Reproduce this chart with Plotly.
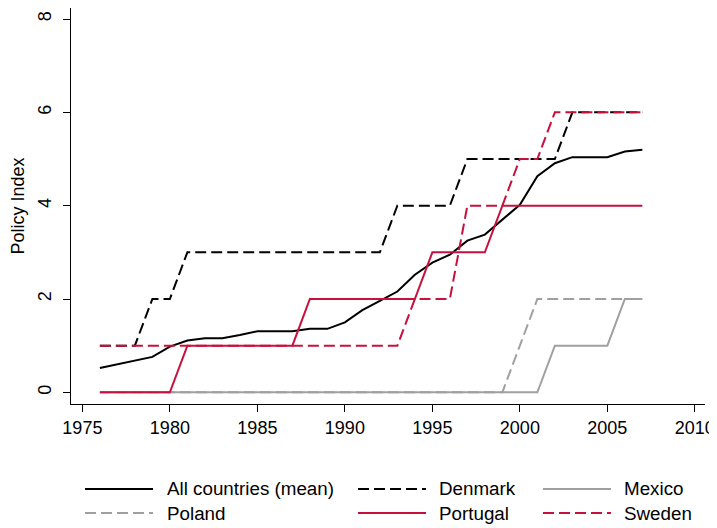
import plotly.graph_objects as go

# ---------------- data ----------------
years = list(range(1976, 2008))

mean_all = [0.52, 0.60, 0.68, 0.76, 0.98, 1.11, 1.16, 1.16, 1.23, 1.31, 1.31, 1.31,
            1.36, 1.36, 1.50, 1.76, 1.96, 2.16, 2.52, 2.78, 2.95, 3.25, 3.38, 3.70,
            4.02, 4.63, 4.91, 5.04, 5.04, 5.04, 5.16, 5.20]
denmark = [1, 1, 1, 2, 2, 3, 3, 3, 3, 3, 3, 3, 3, 3, 3, 3, 3, 4, 4, 4, 4, 5, 5, 5,
           5, 5, 5, 6, 6, 6, 6, 6]
mexico = [0] * 26 + [1, 1, 1, 1, 2, 2]
poland = [0] * 24 + [1, 2, 2, 2, 2, 2, 2, 2]
portugal = [0, 0, 0, 0, 0, 1, 1, 1, 1, 1, 1, 1, 2, 2, 2, 2, 2, 2, 2, 3, 3, 3, 3, 4,
            4, 4, 4, 4, 4, 4, 4, 4]
sweden = [1, 1, 1, 1, 1, 1, 1, 1, 1, 1, 1, 1, 1, 1, 1, 1, 1, 1, 2, 2, 2, 4, 4, 4,
          5, 5, 6, 6, 6, 6, 6, 6]

series_names = ["All countries (mean)", "Denmark", "Mexico", "Poland", "Portugal", "Sweden"]
series_values = [mean_all, denmark, mexico, poland, portugal, sweden]

x_ticks = [1975, 1980, 1985, 1990, 1995, 2000, 2005, 2010]
y_ticks = [0, 2, 4, 6, 8]

# ---------------- styles ----------------
BLACK = "#000000"
RED = "#c8103c"
GREY = "#a0a0a0"
DASH = "11px,5px"
styles = {
    "All countries (mean)": (BLACK, "solid"),
    "Denmark": (BLACK, DASH),
    "Mexico": (GREY, "solid"),
    "Poland": (GREY, DASH),
    "Portugal": (RED, "solid"),
    "Sweden": (RED, DASH),
}
FONT = "Liberation Sans, Arial, Helvetica, sans-serif"
FS = 18
FS_LEG = 18.8

# the page body adds an 8px offset; the figure is sized to fill the rest
OFF = 8
W, H = 717 - OFF, 528 - OFF
ML, MR, MT, MB = 71 - OFF, 12, 0, 124
PW, PH = W - ML - MR, H - MT - MB


def px_x(p):  # p in reference-page pixels
    return (p - OFF - ML) / PW


def px_y(p):
    return (H - MB - (p - OFF)) / PH


fig = go.Figure()
for name, vals in zip(series_names, series_values):
    color, dash = styles[name]
    fig.add_trace(go.Scatter(x=years, y=vals, mode="lines", name=name,
                             line=dict(color=color, width=2, dash=dash),
                             showlegend=False))

# manual legend (3 columns x 2 rows, row-major order)
key_x0 = [85, 358, 543]
key_len = 68
text_x = [165, 437, 622]
row_y = [489, 513]
shapes, annots = [], []
for i, name in enumerate(series_names):
    r, c = divmod(i, 3)
    color, dash = styles[name]
    yy = px_y(row_y[r])
    shapes.append(dict(type="line", xref="paper", yref="paper",
                       x0=px_x(key_x0[c]), x1=px_x(key_x0[c] + key_len), y0=yy, y1=yy,
                       line=dict(color=color, width=2, dash=dash)))
    annots.append(dict(text=name, xref="paper", yref="paper", x=px_x(text_x[c]), y=yy,
                       xanchor="left", yanchor="middle", showarrow=False,
                       font=dict(family=FONT, size=FS_LEG, color=BLACK)))

fig.update_layout(
    width=W, height=H,
    margin=dict(l=ML, r=MR, t=MT, b=MB, autoexpand=False),
    paper_bgcolor="white", plot_bgcolor="white",
    font=dict(family=FONT, size=FS, color=BLACK),
    shapes=shapes, annotations=annots,
    showlegend=False,
)
fig.update_xaxes(range=[1974.35, 2010.58], tickvals=x_ticks, showgrid=False, zeroline=False,
                 showline=True, linecolor=BLACK, linewidth=1,
                 ticks="outside", ticklen=7, tickwidth=1, tickcolor=BLACK,
                 tickfont=dict(family=FONT, size=FS, color=BLACK))
fig.update_yaxes(range=[-0.25, 8.236], tickvals=y_ticks, showgrid=False, zeroline=False,
                 showline=True, linecolor=BLACK, linewidth=1,
                 ticks="outside", ticklen=7, tickwidth=1, tickcolor=BLACK, tickangle=-90,
                 ticklabelstandoff=5,
                 tickfont=dict(family=FONT, size=FS, color=BLACK),
                 title=dict(text="Policy Index", standoff=14,
                            font=dict(family=FONT, size=FS, color=BLACK)))

fig.write_html("out.html")
